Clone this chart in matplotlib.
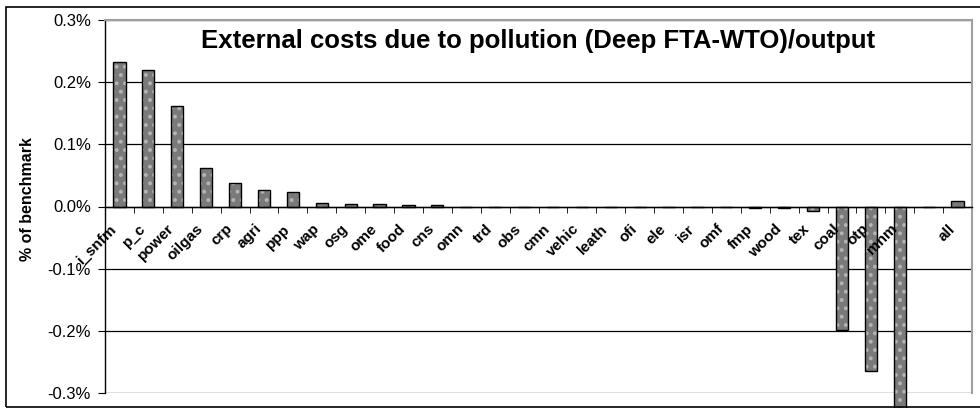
import matplotlib
matplotlib.use("Agg")
import matplotlib.pyplot as plt
import matplotlib.transforms as mtransforms
import numpy as np
from matplotlib.patches import Rectangle

# data (% of benchmark)
sectors = ["i_snfm", "p_c", "power", "oilgas", "crp", "agri", "ppp", "wap", "osg",
           "ome", "food", "cns", "omn", "trd", "obs", "cmn", "vehic", "leath", "ofi",
           "ele", "isr", "omf", "fmp", "wood", "tex", "coal", "otp", "mnm", "", "all"]
values = [0.232, 0.220, 0.161, 0.062, 0.038, 0.027, 0.024, 0.006, 0.004,
          0.004, 0.003, 0.002, 0.0, 0.0, 0.0, 0.0, 0.0, 0.0, 0.0,
          0.0, 0.0, 0.0, -0.003, -0.003, -0.007, -0.199, -0.265, -0.36, 0.0, 0.009]
yticks = [-0.3, -0.2, -0.1, 0.0, 0.1, 0.2, 0.3]

plt.rcParams['font.family'] = ['Liberation Sans', 'DejaVu Sans']
plt.rcParams['hatch.linewidth'] = 1.6

fig = plt.figure(figsize=(9.8, 4.08), dpi=100)
ax = fig.add_axes([105/980, 15/408, 867/980, 373/408])

x = np.arange(len(sectors))
# dotted fill, then outline
ax.bar(x, values, width=0.42, color="#7a7a7a", edgecolor="#b4b4b4", hatch="..",
       linewidth=0, clip_on=False, zorder=1.5)
ax.bar(x, values, width=0.42, color="none", edgecolor="black", linewidth=1.0,
       clip_on=False, zorder=1.6)

ax.set_xlim(-0.5, len(sectors) - 0.5)
ax.set_ylim(-0.3, 0.3)
ax.set_yticks(yticks)
ax.set_yticklabels([f"{v:.1f}%" for v in yticks], fontsize=12)
for v in yticks:
    ax.axhline(v, color="black", linewidth=0.9, zorder=1)

for s in ["top", "right"]:
    ax.spines[s].set_color("#a0a0a0")
    ax.spines[s].set_linewidth(1.5)
ax.spines["left"].set_linewidth(1.0)
ax.spines["bottom"].set_position(("data", 0))
ax.spines["bottom"].set_linewidth(1.0)

ax.set_xticks(x)
ax.set_xticklabels(sectors, rotation=45, ha="right", va="top", fontsize=11,
                   fontweight="bold")
shift = mtransforms.ScaledTranslation(-5/100, 0, fig.dpi_scale_trans)
for lab in ax.get_xticklabels():
    lab.set_transform(lab.get_transform() + shift)
ax.set_xticks(np.arange(len(sectors) + 1) - 0.5, minor=True)
ax.tick_params(axis="x", which="major", length=0, pad=11)
ax.tick_params(axis="x", which="minor", length=4, direction="out")
ax.tick_params(axis="y", length=5, direction="out", pad=5)

ax.set_ylabel("% of benchmark", fontsize=11.5, fontweight="bold")
ax.yaxis.set_label_coords(-0.081, 0.52)
ax.text(0.5, 0.975, "External costs due to pollution (Deep FTA-WTO)/output",
        transform=ax.transAxes, ha="center", va="top", fontsize=18.5, fontweight="bold")

# chart border
fig.patches.append(Rectangle((6/980, 1/408), 980/980, 400/408, transform=fig.transFigure,
                             fill=False, edgecolor="black", linewidth=1.2, zorder=0))

fig.savefig("out.png", dpi=100)
